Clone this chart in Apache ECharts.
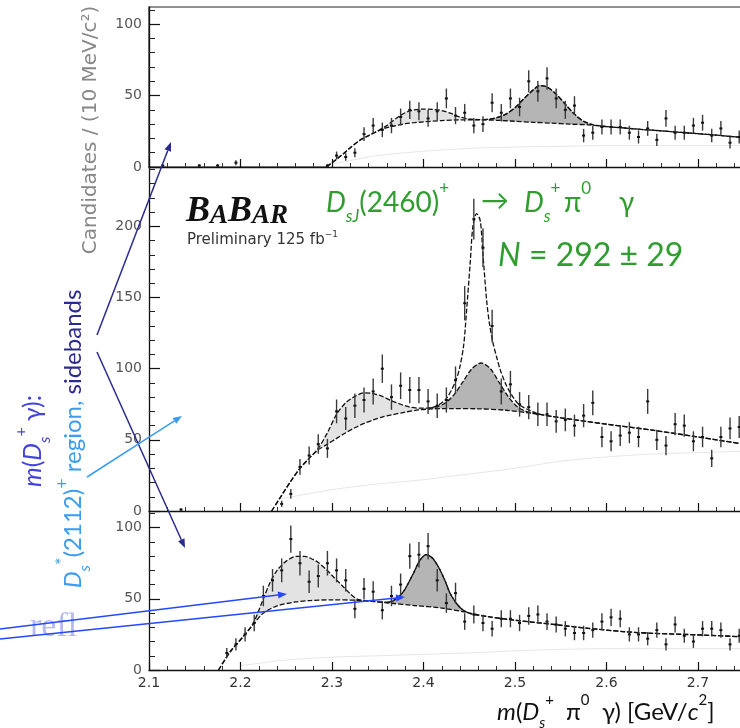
<!DOCTYPE html>
<html>
<head>
<meta charset="utf-8">
<script src="https://cdn.jsdelivr.net/npm/echarts@6/dist/echarts.min.js"></script>
<style>
  html, body { margin: 0; padding: 0; background: #fff; }
  #c { width: 740px; height: 728px; }
</style>
</head>
<body>
<div id="c"></div>
<script>
// Histogram binning of m(Ds+ pi0 gamma), GeV/c^2
const binStart = 2.10;
const binWidth = 0.01;

// Candidates per 10 MeV/c^2 bin (first bin starts at 2.10)
const upperSidebandCounts = [
  0, 1, 0, 0, 0, 1, 0, 1, 0, 3,
  0, 0, 0, 0, 0, 0, 0, 0, 0, 1,
  8, 7, 10, 23, 29, 26, 29, 35, 40, 39,
  34, 39, 48, 36, 38, 29, 30, 45, 38, 48,
  42, 60, 53, 62, 48, 40, 43, 22, 24, 28,
  28, 28, 24, 21, 27, 19, 34, 24, 24, 29,
  31, 22, 27, 17, 21
];
const signalRegionCounts = [
  0, 0, 0, 1, 0, 0, 0, 0, 0, 0,
  0, 0, 0, 0, 5, 12, 31, 39, 47, 44,
  70, 65, 74, 78, 84, 100, 80, 88, 85, 85,
  77, 74, 78, 92, 146, 205, 185, 130, 84, 89,
  75, 73, 68, 68, 63, 64, 60, 67, 76, 52,
  49, 53, 55, 52, 77, 50, 46, 61, 60, 49,
  52, 37, 52, 58, 59
];
const lowerSidebandCounts = [
  0, 0, 0, 0, 0, 0, 0, 0, 12, 18,
  25, 33, 52, 63, 70, 92, 75, 62, 66, 75,
  70, 63, 43, 57, 55, 42, 52, 60, 80, 81,
  87, 63, 47, 54, 34, 39, 33, 29, 36, 36,
  33, 38, 39, 34, 32, 29, 26, 26, 28, 34,
  37, 36, 25, 25, 22, 28, 18, 32, 24, 20,
  29, 29, 28, 18, 24
];

// Fit curves: [mass, candidates]
const upperBkg = [[2.294,0],[2.30,3],[2.31,8],[2.32,13.5],[2.33,18.5],[2.34,22],[2.35,25],[2.36,27.5],[2.37,29],[2.38,30.3],[2.39,31],[2.40,31.6],[2.42,32.5],[2.44,33],[2.46,33],[2.48,32.7],[2.50,32],[2.52,31.3],[2.54,30.7],[2.56,30],[2.58,29.5],[2.60,28.3],[2.62,27.3],[2.64,26.2],[2.66,25.3],[2.68,24.3],[2.70,23.3],[2.72,22.3],[2.75,20.5]];
const upperTotal = [[2.294,0],[2.30,3],[2.31,8],[2.32,13.5],[2.33,18.5],[2.34,22],[2.35,25.3],[2.36,29],[2.37,34],[2.38,38],[2.39,40],[2.40,40.5],[2.41,40.3],[2.42,39.5],[2.43,37.5],[2.44,35],[2.45,33.6],[2.46,33.2],[2.47,33.3],[2.48,34.5],[2.49,37],[2.50,41.5],[2.51,48],[2.52,54],[2.527,57],[2.535,56],[2.545,51],[2.555,44],[2.565,37],[2.575,32],[2.585,29.6],[2.60,28.3],[2.62,27.3],[2.64,26.2],[2.66,25.3],[2.68,24.3],[2.70,23.3],[2.72,22.3],[2.75,20.5]];
const upperSignal = [[2.465,33.1],[2.47,33.3],[2.48,34.5],[2.49,37],[2.50,41.5],[2.51,48],[2.52,54],[2.527,57],[2.535,56],[2.545,51],[2.555,44],[2.565,37],[2.575,32],[2.585,29.6]];
const upperFaint = [[2.30,2],[2.35,8],[2.40,11],[2.45,13],[2.50,14],[2.55,14.5],[2.60,15],[2.70,15],[2.75,15]];

const middleBkg = [[2.234,0],[2.245,11],[2.255,21],[2.265,30],[2.275,37],[2.285,43],[2.295,47],[2.305,51],[2.315,55],[2.325,58.5],[2.335,61.5],[2.345,64],[2.355,66],[2.365,67.5],[2.38,69.5],[2.395,71],[2.41,71.8],[2.43,72],[2.46,71.8],[2.49,70.8],[2.52,68.5],[2.55,65.5],[2.60,61],[2.65,56.8],[2.70,52],[2.75,47]];
const middleTotal = [[2.234,0],[2.245,11],[2.255,21],[2.265,30],[2.275,37],[2.285,44],[2.295,55],[2.305,68],[2.315,76],[2.325,80.5],[2.335,83],[2.345,82.5],[2.355,80.5],[2.365,77.5],[2.375,75],[2.385,73],[2.395,72.3],[2.405,72.3],[2.415,74],[2.425,79],[2.435,91],[2.44,102],[2.444,117],[2.447,140],[2.451,174],[2.454,200],[2.458,209],[2.462,204],[2.465,180],[2.469,148],[2.472,132],[2.476,118],[2.48,108],[2.484,99],[2.49,89],[2.495,83],[2.50,78],[2.505,74.5],[2.515,71],[2.527,68],[2.55,65.5],[2.60,61],[2.65,56.8],[2.70,52],[2.75,47]];
const middleSignal = [[2.405,72.2],[2.413,73],[2.423,75.5],[2.433,81.4],[2.443,90.7],[2.453,100],[2.463,104],[2.473,100],[2.483,90],[2.493,80],[2.503,73],[2.513,69.8],[2.523,68.6]];
const middleFaint = [[2.24,8],[2.30,15],[2.35,19],[2.40,22],[2.45,26],[2.50,30],[2.55,35],[2.60,38],[2.65,40],[2.70,41],[2.75,42]];

const lowerBkg = [[2.176,0],[2.189,13],[2.203,23.5],[2.214,32],[2.225,40],[2.24,45],[2.26,47.8],[2.276,48.8],[2.30,49.3],[2.327,49],[2.345,48.2],[2.363,47],[2.39,45.3],[2.42,43.5],[2.447,40.5],[2.47,37.5],[2.50,35],[2.546,31.7],[2.58,29.3],[2.618,27],[2.65,25.8],[2.70,24.7],[2.75,23.3]];
const lowerTotal = [[2.176,0],[2.189,13],[2.203,23.5],[2.214,33],[2.225,50],[2.232,61],[2.24,70],[2.25,76.5],[2.261,79.8],[2.27,79.8],[2.276,78.7],[2.285,75.5],[2.294,70.4],[2.303,64.5],[2.312,58.7],[2.32,53.5],[2.327,50],[2.335,48.6],[2.345,48.2],[2.355,47.6],[2.363,47.6],[2.37,50],[2.378,55],[2.389,68],[2.396,77],[2.403,81],[2.41,78.5],[2.418,70.4],[2.424,62],[2.429,54],[2.437,46],[2.444,41.8],[2.452,39.4],[2.47,37.5],[2.50,35],[2.546,31.7],[2.58,29.3],[2.618,27],[2.65,25.8],[2.70,24.7],[2.75,23.3]];
const lowerSignal = [[2.36,47.2],[2.37,50],[2.378,55],[2.389,68],[2.396,77],[2.403,81],[2.41,78.5],[2.418,70.4],[2.424,62],[2.429,54],[2.437,46],[2.444,41.8],[2.452,39.4]];
const lowerFaint = [[2.20,3],[2.25,7],[2.30,9],[2.35,10],[2.40,11],[2.45,12],[2.50,13.5],[2.55,14.5],[2.60,15],[2.70,15],[2.75,15]];

// Mass window of the Ds*(2112) reflection bump in each panel
const upperReflWindow = [2.35, 2.46];
const middleReflWindow = [2.285, 2.415];
const lowerReflWindow = [2.214, 2.363];

// Axis ticks
const xTickLabels = [2.1, 2.2, 2.3, 2.4, 2.5, 2.6, 2.7];
const upperYTicks = [0, 50, 100];
const middleYTicks = [0, 50, 100, 150, 200];
const lowerYTicks = [0, 50, 100];
const upperYMax = 112, middleYMax = 241, lowerYMax = 111;

const panels = [
  { counts: upperSidebandCounts, bkg: upperBkg, total: upperTotal, signal: upperSignal, faint: upperFaint, refl: upperReflWindow, yTicks: upperYTicks, yMax: upperYMax },
  { counts: signalRegionCounts, bkg: middleBkg, total: middleTotal, signal: middleSignal, faint: middleFaint, refl: middleReflWindow, yTicks: middleYTicks, yMax: middleYMax },
  { counts: lowerSidebandCounts, bkg: lowerBkg, total: lowerTotal, signal: lowerSignal, faint: lowerFaint, refl: lowerReflWindow, yTicks: lowerYTicks, yMax: lowerYMax }
];

// Panel placement (pixels); the mass axis runs on past the right edge of the page
const plotLeft = 149, plotWidth = 640.5;
const panelBoxes = [ { top: 7, height: 160 }, { top: 168, height: 343 }, { top: 512, height: 158 } ];

const grids = [], xAxes = [], yAxes = [], series = [];
const curveLine = { color: '#111', width: 1.3, type: [5, 2] };

panels.forEach((p, i) => {
  grids.push({
    left: plotLeft, width: plotWidth, top: panelBoxes[i].top, height: panelBoxes[i].height,
    outerBoundsMode: 'none', containLabel: false,
    show: i === 0, borderColor: '#222', borderWidth: 1.2, backgroundColor: 'transparent'
  });
  const last = i === panels.length - 1;
  xAxes.push({
    type: 'value', gridIndex: i, min: 2.1, max: 2.8, interval: 0.1, position: 'bottom', z: 10,
    axisLine: { show: true, onZero: false, lineStyle: { color: '#111', width: 1.4 } },
    axisTick: { show: true, inside: true, length: 8, lineStyle: { color: '#111', width: 1.2 } },
    minorTick: { show: true, splitNumber: 5, length: 4, lineStyle: { color: '#333', width: 1 } },
    splitLine: { show: false }, minorSplitLine: { show: false },
    axisLabel: {
      show: last, customValues: xTickLabels, color: '#333', fontSize: 14,
      fontFamily: 'DejaVu Sans', margin: 6, formatter: v => Number(v).toFixed(1)
    }
  });
  const minors = [];
  for (let v = 10; v < p.yMax; v += 10) if (v % 50 !== 0) minors.push(v);
  yAxes.push({
    type: 'value', gridIndex: i, min: 0, max: p.yMax, position: 'left', z: 10,
    axisLine: { show: true, onZero: false, lineStyle: { color: '#111', width: 1.3 } },
    axisTick: { show: true, inside: true, length: 11, customValues: p.yTicks, lineStyle: { color: '#111', width: 1.2 } },
    axisLabel: { show: true, customValues: p.yTicks, color: '#555', fontSize: 14, fontFamily: 'DejaVu Sans', margin: 7 },
    splitLine: { show: false }
  });
  yAxes.push({
    type: 'value', gridIndex: i, min: 0, max: p.yMax, position: 'left', z: 10,
    axisLine: { show: false },
    axisTick: { show: true, inside: true, length: 6, customValues: minors, lineStyle: { color: '#222', width: 1 } },
    axisLabel: { show: false }, splitLine: { show: false }
  });

  const xi = i, yi = 2 * i;
  const reflPart = p.total.filter(d => d[0] >= p.refl[0] && d[0] <= p.refl[1]);
  series.push(
    { type: 'line', xAxisIndex: xi, yAxisIndex: yi, data: reflPart, smooth: 0.3, symbol: 'none', z: 1,
      lineStyle: { width: 0 }, areaStyle: { color: '#e3e3e3', opacity: 1 } },
    { type: 'line', xAxisIndex: xi, yAxisIndex: yi, data: p.signal, smooth: 0.3, symbol: 'none', z: 1,
      lineStyle: { width: 0 }, areaStyle: { color: '#b5b5b5', opacity: 1 } },
    { type: 'line', xAxisIndex: xi, yAxisIndex: yi, data: p.bkg, smooth: 0.3, symbol: 'none', z: 2,
      lineStyle: { width: 0 }, areaStyle: { color: '#ffffff', opacity: 1 } },
    { type: 'line', xAxisIndex: xi, yAxisIndex: yi, data: p.faint, smooth: 0.3, symbol: 'none', z: 3,
      lineStyle: { color: '#e6e6e6', width: 1 } },
    { type: 'line', xAxisIndex: xi, yAxisIndex: yi, data: p.signal, smooth: 0.3, symbol: 'none', z: 4,
      lineStyle: curveLine },
    { type: 'line', xAxisIndex: xi, yAxisIndex: yi, data: p.bkg, smooth: 0.3, symbol: 'none', z: 4,
      lineStyle: curveLine },
    { type: 'line', xAxisIndex: xi, yAxisIndex: yi, data: p.total, smooth: 0.3, symbol: 'none', z: 4,
      lineStyle: curveLine },
    { type: 'custom', xAxisIndex: xi, yAxisIndex: yi, z: 6,
      data: p.counts.map((n, k) => [binStart + binWidth * (k + 0.5), n, Math.sqrt(n)]).filter(d => d[1] > 0),
      renderItem: (params, api) => {
        const x = api.value(0), n = api.value(1), e = api.value(2);
        const a = api.coord([x, n + e]);
        const b = api.coord([x, Math.max(n - e, 0)]);
        const c = api.coord([x, n]);
        return { type: 'group', children: [
          { type: 'line', shape: { x1: a[0], y1: a[1], x2: b[0], y2: b[1] }, style: { stroke: '#3a3a3a', lineWidth: 1.4 } },
          { type: 'rect', shape: { x: c[0] - 1.5, y: c[1] - 1, width: 3, height: 2 }, style: { fill: '#111' } }
        ] };
      } }
  );
});

// Arrow helper for the annotation graphics
function arrow(x1, y1, x2, y2, color, width) {
  const ang = Math.atan2(y2 - y1, x2 - x1), len = 9, hw = 3.5;
  const bx = x2 - len * Math.cos(ang), by = y2 - len * Math.sin(ang);
  const px = -Math.sin(ang) * hw, py = Math.cos(ang) * hw;
  return [
    { type: 'line', z: 60, shape: { x1: x1, y1: y1, x2: bx, y2: by }, style: { stroke: color, lineWidth: width } },
    { type: 'polygon', z: 60, shape: { points: [[x2, y2], [bx + px, by + py], [bx - px, by - py]] }, style: { fill: color } }
  ];
}

// Formula text pieces (rich text with sub/superscripts)
function formula(x, y, text, size, color, extra) {
  const s = Math.round(size * 0.62);
  return Object.assign({ type: 'text', z: 50, x: x, y: y,
    style: { text: text, align: 'left', verticalAlign: 'middle', lineHeight: Math.round(size * 1.6), fill: color,
      rich: {
        m: { fontSize: size, fontFamily: 'Lato', fill: color },
        i: { fontSize: size, fontFamily: 'Lato', fontStyle: 'italic', fill: color },
        sub: { fontSize: s, fontFamily: 'Lato', fontStyle: 'italic', fill: color, verticalAlign: 'bottom' },
        sup: { fontSize: s, fontFamily: 'Lato', fill: color, verticalAlign: 'top' }
      } } }, extra || {});
}

const green = '#2f9e2f';
const navy = '#2b2b8f';
const skyBlue = '#3b9cf2';
const violetBlue = '#4343df';
const brightBlue = '#2448ff';

const graphics = [
  // y-axis title
  { type: 'text', z: 50, x: 91, y: 130, rotation: Math.PI / 2,
    style: { text: 'Candidates / (10 MeV/c²)', fill: '#888', fontSize: 20, fontFamily: 'DejaVu Sans', align: 'center', verticalAlign: 'middle' } },
  // BaBar logo
  { type: 'text', z: 50, x: 186, y: 196,
    style: { text: '{b|B}{s|A}{b|B}{s|AR}', align: 'left', verticalAlign: 'top', lineHeight: 34,
      rich: {
        b: { fontSize: 36, fontFamily: 'Liberation Serif', fontStyle: 'italic', fontWeight: 'bold', fill: '#111', verticalAlign: 'bottom' },
        s: { fontSize: 27, fontFamily: 'Liberation Serif', fontStyle: 'italic', fontWeight: 'bold', fill: '#111', verticalAlign: 'bottom' }
      } } },
  { type: 'text', z: 50, x: 187, y: 240,
    style: { text: '{m|Preliminary 125 fb}{sup|−1}', align: 'left', verticalAlign: 'middle', lineHeight: 20,
      rich: {
        m: { fontSize: 15, fontFamily: 'DejaVu Sans', fill: '#333' },
        sup: { fontSize: 9, fontFamily: 'DejaVu Sans', fill: '#333', verticalAlign: 'top' }
      } } },
  // decay title
  formula(326, 203, '{i|D}{sub|sJ}{m|(2460)}{sup|+}', 28, green),
  formula(481, 201, '{m|→}', 28, green),
  formula(524, 203, '{i|D}{sub|s}{sup|+}', 28, green),
  formula(564, 203, '{m|π}{sup|0}', 28, green),
  formula(619, 203, '{m|γ}', 28, green),
  formula(498, 256, '{i|N}{m| = 292 ± 29}', 32, green),
  // x-axis title
  formula(497, 712, '{i|m}{m|(}{i|D}{sub|s}{sup|+}', 24, '#111'),
  formula(566, 712, '{m|π}{sup|0}', 24, '#111'),
  formula(602, 712, '{m|γ) [GeV/}{i|c}{sup|2}{m|]}', 24, '#111'),
  // side annotation: m(Ds+ gamma) regions
  { type: 'text', z: 50, x: 33, y: 441, rotation: Math.PI / 2,
    style: { text: '{i|m}{m|(}{i|D}{sub|s}{sup|+}{m| γ):}', align: 'center', verticalAlign: 'middle', lineHeight: 40, fill: violetBlue,
      rich: {
        m: { fontSize: 25, fontFamily: 'Lato', fill: violetBlue },
        i: { fontSize: 25, fontFamily: 'Lato', fontStyle: 'italic', fill: violetBlue },
        sub: { fontSize: 16, fontFamily: 'Lato', fontStyle: 'italic', fill: violetBlue, verticalAlign: 'bottom' },
        sup: { fontSize: 16, fontFamily: 'Lato', fill: violetBlue, verticalAlign: 'top' }
      } } },
  { type: 'text', z: 50, x: 73, y: 439, rotation: Math.PI / 2,
    style: { text: '{i|D}{sub|s}{sup|*}{m|(2112)}{sup|+}{m| region, }{n|sidebands}', align: 'center', verticalAlign: 'middle', lineHeight: 40, fill: skyBlue,
      rich: {
        m: { fontSize: 24, fontFamily: 'Lato', fill: skyBlue },
        i: { fontSize: 24, fontFamily: 'Lato', fontStyle: 'italic', fill: skyBlue },
        sub: { fontSize: 16, fontFamily: 'Lato', fontStyle: 'italic', fill: skyBlue, verticalAlign: 'bottom' },
        sup: { fontSize: 18, fontFamily: 'Lato', fill: skyBlue, verticalAlign: 'top' },
        n: { fontSize: 24, fontFamily: 'Lato', fill: navy }
      } } },
  // reflection label
  { type: 'text', z: 40, x: 30, y: 627,
    style: { text: 'refl', fill: '#b8b8f2', fontSize: 34, fontFamily: 'Liberation Serif', align: 'left', verticalAlign: 'middle' } }
].concat(
  arrow(97, 335, 171, 142, navy, 1.5),
  arrow(97, 352, 185, 548, navy, 1.5),
  arrow(87, 477, 182, 416, skyBlue, 1.5),
  arrow(0, 629, 287, 594, brightBlue, 1.5),
  arrow(0, 639, 405, 597, brightBlue, 1.5)
);

const chart = echarts.init(document.getElementById('c'), null, { renderer: 'canvas', width: 740, height: 728 });
chart.setOption({
  animation: false,
  backgroundColor: '#fff',
  grid: grids,
  xAxis: xAxes,
  yAxis: yAxes,
  series: series,
  graphic: { elements: graphics }
});
</script>
</body>
</html>
